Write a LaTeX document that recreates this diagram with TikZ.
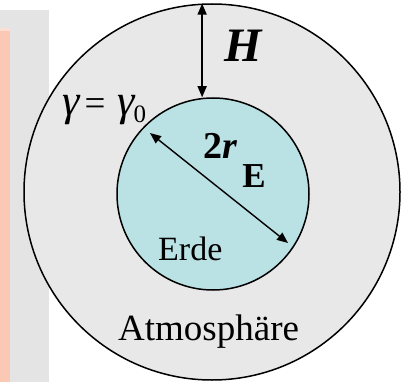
\documentclass[tikz,border=0pt]{standalone}
\usepackage{fontspec}
\setmainfont{Liberation Serif}
\usepackage{tikz}
\usetikzlibrary{arrows.meta}
\definecolor{atmogray}{RGB}{232,232,232}
\definecolor{panelgray}{RGB}{228,228,228}
\definecolor{panelsalmon}{RGB}{250,200,180}
\definecolor{earthcyan}{RGB}{186,225,228}

\tikzset{
  dimarrow/.style={{Triangle[length=11pt,width=9pt]}-{Triangle[length=11pt,width=9pt]}, line width=1.4pt},
  label/.style={anchor=base west, inner sep=0pt}
}

\begin{document}
\begin{tikzpicture}[x=1pt, y=-1pt]
\useasboundingbox (0,0) rectangle (401,382);
\fill[panelgray] (0,10) rectangle (49,382);
\fill[panelsalmon] (0,28) rectangle (10,382);
\fill[panelsalmon!60!white] (0,28) rectangle (10,31);
\node[circle, draw, line width=1.5pt, fill=atmogray, minimum size=376pt, inner sep=0pt] (atmo) at (212,192) {};
\node[circle, draw, line width=1.5pt, fill=earthcyan, minimum size=192pt, inner sep=0pt] (erde) at (213,194) {};
\draw[dimarrow] (atmo.93) -- (atmo.93 |- erde.north);
\coordinate (dstart) at (150,133);
\coordinate (dend) at (288,243);
\draw[dimarrow] (dstart) -- (dend);
\node[label] (hlabel) at (224,62) {\fontsize{48}{48}\selectfont\bfseries\itshape H};
\node[label] (rlabel) at (203,158) {\fontsize{38}{38}\selectfont\bfseries 2\textit{r}\hspace{5pt}\raisebox{-29pt}{\fontsize{35}{35}\selectfont E}};
\node[label] (glabel) at (62,116) {\fontsize{44}{44}\selectfont\textit{γ}\hspace{4pt}{\fontsize{37}{37}\selectfont =}\hspace{12pt}\textit{γ}\hspace{-2pt}\raisebox{-7pt}{\fontsize{25}{25}\selectfont 0}};
\node[label] (erdelabel) at (158,260) {\fontsize{34}{34}\selectfont Erde};
\node[label] (atmolabel) at (118,340) {\fontsize{37}{37}\selectfont Atmosphäre};
\end{tikzpicture}
\end{document}
